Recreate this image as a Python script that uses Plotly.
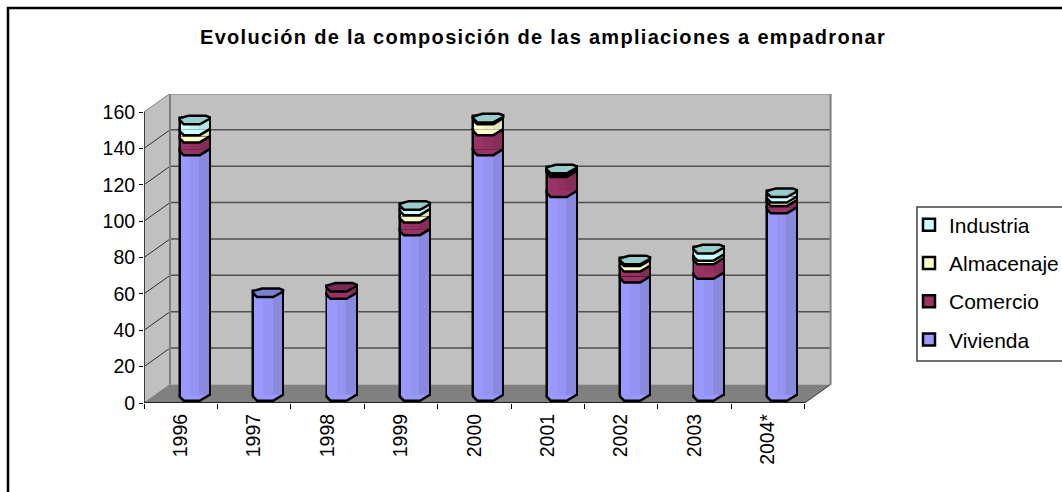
import plotly.graph_objects as go

years = ["1996", "1997", "1998", "1999", "2000", "2001", "2002", "2003", "2004*"]
vivienda = [135, 57, 56, 91, 135, 112, 65, 67, 103]
comercio = [7, 0, 4, 7, 11, 11, 6, 8, 4]
almacenaje = [4, 0, 0, 4, 6, 1, 3, 2, 2]
industria = [6, 0, 0, 3, 1, 1, 1, 4, 3]
y_ticks = [0, 20, 40, 60, 80, 100, 120, 140, 160]

series = [
    ("Vivienda", vivienda, ["#9999FF", "#9393F2", "#8989E0"], "#7F7FD0", 4),
    ("Comercio", comercio, ["#993366", "#91305F", "#872D5A"], "#7A2952", 3),
    ("Almacenaje", almacenaje, ["#FFFFCC", "#F3F3C2", "#E3E3B5"], "#CCCCA3", 2),
    ("Industria", industria, ["#CCFFFF", "#C2F3F3", "#B5E3E3"], "#99CCCC", 1),
]

# pixel scales of the plot frame, used only for pseudo-3D styling
PX_X0, PX_X1, PX_Y0, PX_Y1 = 144, 834, 403, 94
STEP = 73.4
UX = 1 / STEP
UY = 160 / 291
x_range = [-0.5, -0.5 + (PX_X1 - PX_X0) / STEP]
y_range = [0, (PX_Y0 - PX_Y1) * UY]
DX, DY = 26 * UX, 18.5 * UY
SHIFT = 14 * UX
BASE = 6.3 * UY
LIFT = 2 * UY
LW = 2.5


def pt(cx, lvl, px, py):
    return cx + px * UX, lvl - py * UY


def path(points, close=True):
    s = "M" + " L".join(f"{a:.4f},{b:.3f}" for a, b in points)
    return s + (" Z" if close else "")


shapes = []


def poly(points, fill, lw=0, lc="black", layer="above", close=True):
    shapes.append(dict(type="path", path=path(points, close), xref="x", yref="y",
                       fillcolor=fill if fill else "rgba(0,0,0,0)",
                       line=dict(color=lc, width=lw), layer=layer))


xl, xr = -0.5, -0.5 + len(years)
top = y_ticks[-1]
wall_c, floor_c, edge_c = "#C0C0C0", "#808080", "#808080"
poly([(xl, 0), (xl, top), (xl + DX, top + DY), (xl + DX, DY)], wall_c, layer="below")
poly([(xl + DX, DY), (xl + DX, top + DY), (xr + DX, top + DY), (xr + DX, DY)], wall_c, layer="below")
poly([(xl, 0), (xr, 0), (xr + DX, DY), (xl + DX, DY)], floor_c, layer="below")
for v in y_ticks[1:-1]:
    poly([(xl + DX, v + DY), (xr + DX, v + DY)], None, 1.5, "#505050", "below", False)
for v in y_ticks[1:]:
    poly([(xl, v), (xl + DX, v + DY)], None, 1, "#303030" if v < top else edge_c, "below", False)
poly([(xl + DX, DY), (xl + DX, top + DY), (xr + DX, top + DY), (xr + DX, DY)], None, 2, edge_c, "below", False)
poly([(xl, 0), (xl + DX, DY)], None, 1, edge_c, "below", False)
poly([(xr, 0), (xr + DX, DY)], None, 1, "#303030", "below", False)
poly([(xl, 0), (xl, top)], None, 2, "#404040", "below", False)
poly([(xl, 0), (xr, 0)], None, 1.5, "black", "below", False)

FRONT = [(-15, -2), (-15, 0), (-11, 4), (5, 4), (15, -2)]
CAP = [(-15, -2), (-15, 0), (-11, 4), (5, 4), (15, -1.5), (15, -3), (11, -4.6), (-6, -4.6)]

fig = go.Figure()
bar_w = 30 * UX
for i, (name, vals, cols, cap, rank) in enumerate(series):
    below = [sum(s[1][k] for s in series[:i]) for k in range(len(years))]
    bases = [BASE + LIFT + b for b in below]
    xs = [k + SHIFT for k in range(len(years))]
    ys = [v if v > 0 else None for v in vals]
    fig.add_trace(go.Bar(x=xs, y=ys, base=bases, width=bar_w, name=name, legendgroup=name, legendrank=rank,
                         marker=dict(color=cols[0], line=dict(color="black", width=LW)),
                         hoverinfo="skip"))
    for j, c in enumerate(cols):
        off = -14 + j * 28 / 3
        fig.add_trace(go.Bar(x=[x + (off + 14 / 3) * UX for x in xs], y=ys, base=bases,
                             width=(28 / 3 + 0.3) * UX, marker=dict(color=c, line=dict(width=0)),
                             showlegend=False, hoverinfo="skip"))
    for k in range(len(years)):
        if vals[k] > 0:
            lvl = BASE + below[k]
            poly([pt(xs[k], lvl, *p) for p in FRONT], cols[0])
            poly([pt(xs[k], lvl, *p) for p in FRONT], None, LW, "black", close=False)

for k in range(len(years)):
    total = sum(s[1][k] for s in series)
    cap_c = [s[3] for s in series if s[1][k] > 0][-1]
    poly([pt(k + SHIFT, BASE + total, *p) for p in CAP], cap_c, LW, "black")

W, H = PX_X1 - PX_X0, PX_Y0 - PX_Y1
shapes.append(dict(type="rect", xref="paper", yref="paper", layer="below",
                   x0=(917 - PX_X0) / W, x1=(1075 - PX_X0) / W,
                   y0=(PX_Y0 - 361) / H, y1=(PX_Y0 - 207) / H,
                   line=dict(color="#404040", width=1.5), fillcolor="white"))
shapes.append(dict(type="rect", xref="paper", yref="paper", layer="below",
                   x0=(8 - PX_X0) / W, x1=(1080 - PX_X0) / W,
                   y0=(PX_Y0 - 510) / H, y1=(PX_Y0 - 8) / H,
                   line=dict(color="black", width=2.5), fillcolor="rgba(0,0,0,0)"))

font = "Liberation Sans"
fig.update_layout(
    width=1062, height=492, autosize=False,
    margin=dict(l=PX_X0, r=1062 - PX_X1, t=PX_Y1, b=492 - PX_Y0, autoexpand=False),
    paper_bgcolor="white", plot_bgcolor="white",
    barmode="overlay", shapes=shapes, bargap=0,
    font=dict(family=font, size=19.5, color="black"),
    title=dict(text="<b>Evolución de la composición de las ampliaciones a empadronar</b>",
               x=543 / 1062, xanchor="center", y=1 - 37 / 492, yanchor="middle",
               font=dict(size=20, family=font)),
    xaxis=dict(range=x_range, tickmode="array", tickvals=list(range(len(years))), ticktext=years,
               tickangle=-90, ticks="", showgrid=False, zeroline=False, showline=False,
               ticklabelstandoff=6,
               minor=dict(tickmode="array", tickvals=[i - 0.5 for i in range(len(years) + 1)],
                          ticks="outside", ticklen=5, tickcolor="black", tickwidth=1, showgrid=False)),
    yaxis=dict(range=y_range, tickmode="array", tickvals=y_ticks, ticks="outside", ticklen=4,
               tickcolor="black", showgrid=False, zeroline=False, showline=False),
    legend=dict(x=(909 - PX_X0) / W, y=(PX_Y0 - 204.5) / H,
                xanchor="left", yanchor="top", traceorder="grouped", tracegroupgap=8,
                bgcolor="rgba(0,0,0,0)", borderwidth=0, font=dict(size=21, family=font)),
)

fig.write_html("out.html", config=dict(displayModeBar=False),
               post_script="document.body.style.margin='0';document.body.style.overflow='hidden';"
                           "var t=document.querySelector('.gtitle');if(t){t.style.letterSpacing='1.3px';}")
